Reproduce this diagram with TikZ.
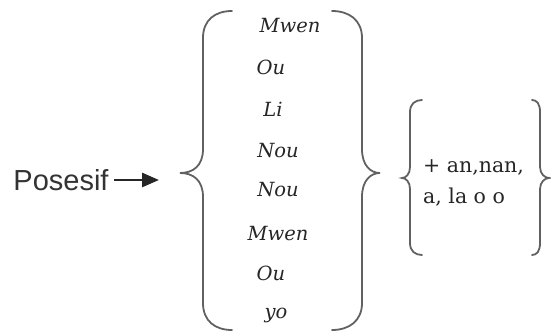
\documentclass[tikz,border=0pt]{standalone}
\usepackage{fontspec}
\setmainfont{DejaVu Serif}
\newfontfamily\labelfont{Liberation Sans}
\usetikzlibrary{arrows.meta}
\tikzset{
  brace/.style={draw=black!62, line width=1.8pt, line cap=round},
  word/.style={font=\fontsize{19.5}{19.5}\selectfont\itshape, anchor=base, inner sep=0pt, text=black!85},
  suffix/.style={font=\fontsize{20.5}{31}\selectfont, align=left, anchor=base west, inner sep=0pt, text=black!85},
  lead/.style={font=\labelfont\fontsize{29}{29}\selectfont, inner sep=0pt, text=black!80},
  pointer/.style={draw=black!85, line width=2.8pt, -{Triangle[length=17pt,width=14pt]}},
}
\begin{document}
\begin{tikzpicture}[x=1pt,y=1pt]
\useasboundingbox (0,0) rectangle (551,332);

% label and its arrow
\node[lead] (pos) at (61,152) {Posesif};
\coordinate (tip) at (159,152);
\draw[pointer] ([xshift=5pt]pos.east) -- (tip);

% large brace pair
\draw[brace] (232,321) .. controls (215,321) and (203,312) .. (203,294) -- (203,183)
  .. controls (203,166) and (193,159) .. (180,159) .. controls (193,159) and (203,152) .. (203,135)
  -- (203,29) .. controls (203,11) and (215,2) .. (232,2);
\draw[brace] (332,321) .. controls (349,321) and (362,312) .. (362,294) -- (362,183)
  .. controls (362,166) and (371,159) .. (380,159) .. controls (371,159) and (362,152) .. (362,135)
  -- (362,29) .. controls (362,11) and (349,2) .. (332,2);

% pronoun list
\node[word] (w1) at (290,299) {Mwen};
\node[word] (w2) at (271,257) {Ou};
\node[word] (w3) at (273,215) {Li};
\node[word] (w4) at (278,174) {Nou};
\node[word] (w5) at (278,135) {Nou};
\node[word] (w6) at (278,92) {Mwen};
\node[word] (w7) at (271,52) {Ou};
\node[word] (w8) at (276,14) {yo};

% small brace pair
\draw[brace] (422,232) .. controls (415,232) and (410,228) .. (410,220) -- (410,165)
  .. controls (410,158) and (406,154) .. (402,154) .. controls (406,154) and (410,150) .. (410,143)
  -- (410,89) .. controls (410,81) and (415,77) .. (422,77);
\draw[brace] (532,232) .. controls (537,232) and (540,228) .. (540,220) -- (540,165)
  .. controls (540,158) and (545,154) .. (549,154) .. controls (545,154) and (540,150) .. (540,143)
  -- (540,89) .. controls (540,81) and (537,77) .. (532,77);

% suffixes
\node[suffix] (sfx) at (423,128) {+ an,nan,\\a, la o o};
\end{tikzpicture}
\end{document}
